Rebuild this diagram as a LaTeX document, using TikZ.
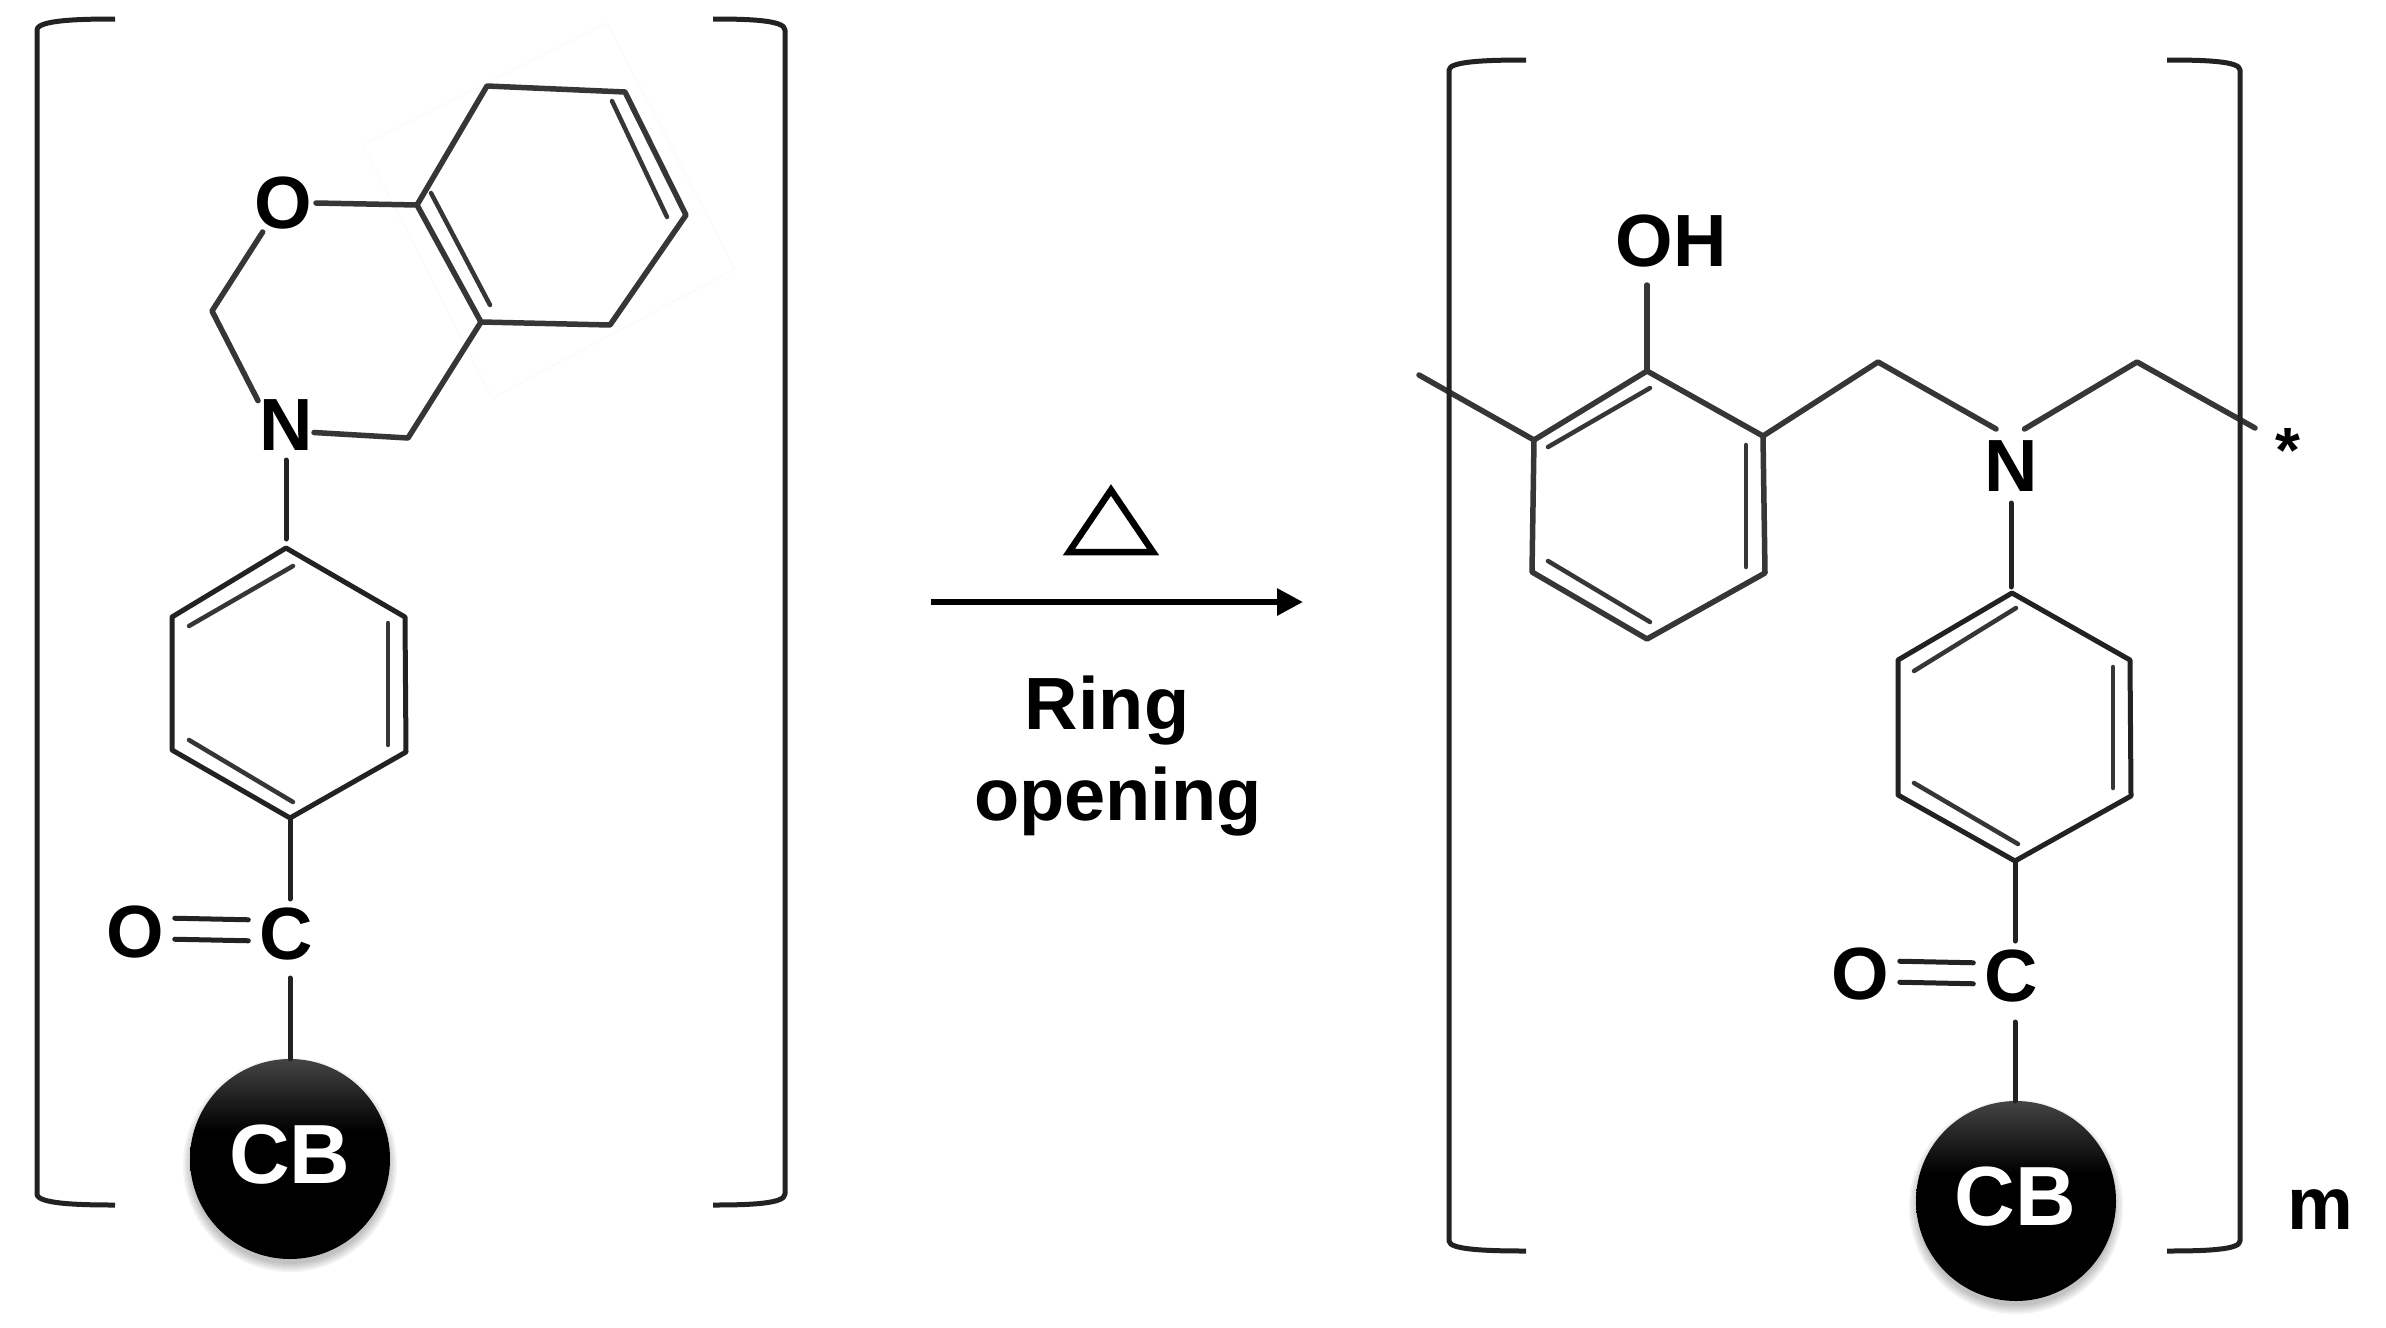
\documentclass[tikz,border=0pt]{standalone}
\usepackage{fontspec}
\setmainfont{Liberation Sans}
\usetikzlibrary{arrows.meta}
\definecolor{ballgray}{HTML}{444444}
\definecolor{ink}{HTML}{222222}
\definecolor{softink}{HTML}{363636}
\pgfdeclareverticalshading{cbball}{100bp}{color(0bp)=(black); color(57bp)=(black); color(75bp)=(ballgray); color(100bp)=(ballgray)}
\tikzset{
  bond/.style={draw=ink,line width=5pt,line cap=round,line join=round},
  softbond/.style={draw=softink,line width=5.5pt,line cap=round,line join=round},
  inner/.style={draw=softink,line width=4.5pt,line cap=round},
  brk/.style={draw=ink,line width=5pt,line cap=butt,line join=round},
  atom/.style={inner sep=0pt,outer sep=0pt,font=\fontsize{74}{80}\selectfont\bfseries,text=black,minimum width=44pt,minimum height=54pt},
  oxy/.style={atom,minimum width=52pt},
  label/.style={inner sep=0pt,outer sep=0pt,anchor=base,font=\fontsize{74}{80}\selectfont\bfseries,text=black},
  ball/.style={circle,inner sep=0pt,outer sep=0pt,minimum size=200pt,shading=cbball,text=white,font=\fontsize{86}{90}\selectfont\bfseries},
}
\newcommand{\ballshadow}[2]{\foreach \r in {99,101,103,105,107}{\fill[black,opacity=0.05] (#1,#2) circle[radius=\r pt];}}
\begin{document}
\begin{tikzpicture}[x=1pt,y=-1pt]
\useasboundingbox[fill=white] (0,0) rectangle (2386,1328);

%% ---------- left monomer ----------
% faint frame around the fused ring
\draw[draw=black!2,line width=1pt] (607,23) -- (735,269) -- (492,398) -- (363,145) -- cycle;

\coordinate (c8a) at (417,205);
\coordinate (c8) at (487,86);
\coordinate (c7) at (625,92);
\coordinate (c6) at (686,215);
\coordinate (c5) at (610,325);
\coordinate (c4a) at (481,322);
\coordinate (c4) at (408,438);
\coordinate (c2) at (212,311);
\node[oxy,minimum width=66pt,minimum height=58pt] (O1) at (283,203) {O};
\node[atom,minimum width=56pt,minimum height=70pt] (N1) at (286,425) {N};
\draw[softbond] (O1.east) -- (c8a) -- (c8) -- (c7) -- (c6) -- (c5) -- (c4a) -- (c8a);
\draw[softbond] (c4a) -- (c4) -- (N1.-15);
\draw[softbond] (O1.-125) -- (c2) -- (N1.139);
\coordinate (i1a) at (431,193); \coordinate (i1b) at (490,305);
\coordinate (i2a) at (612,101); \coordinate (i2b) at (667,217);
\draw[inner] (i1a) -- (i1b);
\draw[inner] (i2a) -- (i2b);

\coordinate (ph1) at (286,548);
\coordinate (ph2) at (405,617);
\coordinate (ph3) at (406,752);
\coordinate (ph4) at (290,818);
\coordinate (ph5) at (172,750);
\coordinate (ph6) at (172,617);
\draw[bond] (ph1) -- (ph2) -- (ph3) -- (ph4) -- (ph5) -- (ph6) -- cycle;
\coordinate (j1a) at (189,626); \coordinate (j1b) at (293,566);
\coordinate (j2a) at (388,623); \coordinate (j2b) at (388,745);
\coordinate (j3a) at (189,740); \coordinate (j3b) at (293,802);
\draw[inner] (j1a) -- (j1b);
\draw[inner] (j2a) -- (j2b);
\draw[inner] (j3a) -- (j3b);
\draw[bond,shorten >=9pt] (N1.south) -- (N1.south |- ph1);

\node[atom,minimum height=70pt] (C1) at (286,934) {C};
\node[oxy] (O2) at (135,932) {O};
\ballshadow{290}{1165}
\node[ball] (CB1) at (290,1159) {};
\node[inner sep=0pt,text=white,font=\fontsize{84}{90}\selectfont\bfseries] (CBt1) at (290,1155) {CB};
\draw[bond] (ph4) -- (ph4 |- C1.north);
\draw[bond,shorten <=9pt] (ph4 |- C1.south) -- (ph4 |- CB1.north);
\draw[bond,shorten <=11pt,shorten >=11pt] ([yshift=14pt]O2.east) -- ([yshift=14pt]C1.west);
\draw[bond,shorten <=11pt,shorten >=11pt] ([yshift=-7pt]O2.east) -- ([yshift=-7pt]C1.west);

% brackets
\coordinate (la) at (115,19); \coordinate (lb) at (37,30); \coordinate (lc) at (37,1194); \coordinate (ld) at (115,1205);
\draw[brk] (la) .. controls (80,19) and (37,20) .. (lb) -- (lc) .. controls (37,1204) and (80,1205) .. (ld);
\coordinate (ra) at (713,19); \coordinate (rb) at (785,30); \coordinate (rc) at (785,1194); \coordinate (rd) at (713,1205);
\draw[brk] (ra) .. controls (748,19) and (785,20) .. (rb) -- (rc) .. controls (785,1204) and (748,1205) .. (rd);

%% ---------- reaction arrow ----------
\coordinate (tA) at (1111,490); \coordinate (tB) at (1153,552); \coordinate (tC) at (1069,552);
\draw[draw=black,line width=6.5pt,line join=miter] (tA) -- (tB) -- (tC) -- cycle;
\coordinate (a1) at (931,602); \coordinate (a2) at (1303,602);
\draw[draw=black,line width=6pt,-{Triangle[length=26pt,width=26pt]}] (a1) -- (a2);
\node[label] (ring) at (1107,729) {Ring};
\node[label] (opening) at (1118,820) {opening};

%% ---------- right polymer ----------
\coordinate (q1) at (1647,371);
\coordinate (q2) at (1763,436);
\coordinate (q3) at (1765,573);
\coordinate (q4) at (1647,639);
\coordinate (q5) at (1532,572);
\coordinate (q6) at (1534,440);
\draw[softbond] (q1) -- (q2) -- (q3) -- (q4) -- (q5) -- (q6) -- cycle;
\coordinate (k1a) at (1548,447); \coordinate (k1b) at (1650,388);
\coordinate (k2a) at (1746,445); \coordinate (k2b) at (1746,567);
\coordinate (k3a) at (1548,561); \coordinate (k3b) at (1650,622);
\draw[inner] (k1a) -- (k1b);
\draw[inner] (k2a) -- (k2b);
\draw[inner] (k3a) -- (k3b);
\coordinate (stub) at (1419,375);
\draw[softbond] (stub) -- (q6);
\node[atom,minimum width=102pt,minimum height=88pt] (OH) at (1671,241) {OH};
\draw[softbond] (q1 |- OH.south) -- (q1);
\coordinate (m1) at (1878,362);
\coordinate (m2) at (2137,362);
\coordinate (endb) at (2255,428);
\node[atom,minimum height=74pt] (N2) at (2011,466) {N};
\draw[softbond] (q2) -- (m1) -- (N2.112);
\draw[softbond] (N2.70) -- (m2) -- (endb);
\node[inner sep=0pt,outer sep=0pt,anchor=base,font=\fontsize{64}{70}\selectfont\bfseries] (star) at (2288,472) {*};

\coordinate (p1) at (2012,593);
\coordinate (p2) at (2130,660);
\coordinate (p3) at (2131,796);
\coordinate (p4) at (2015,861);
\coordinate (p5) at (1898,795);
\coordinate (p6) at (1898,660);
\draw[bond] (p1) -- (p2) -- (p3) -- (p4) -- (p5) -- (p6) -- cycle;
\coordinate (n1a) at (1914,671); \coordinate (n1b) at (2016,608);
\coordinate (n2a) at (2113,667); \coordinate (n2b) at (2113,788);
\coordinate (n3a) at (1914,783); \coordinate (n3b) at (2018,844);
\draw[inner] (n1a) -- (n1b);
\draw[inner] (n2a) -- (n2b);
\draw[inner] (n3a) -- (n3b);
\draw[bond,shorten >=6pt] (N2.south) -- (N2.south |- p1);
\node[atom,minimum height=70pt] (C2) at (2011,976) {C};
\node[oxy] (O3) at (1860,974) {O};
\ballshadow{2016}{1207}
\node[ball] (CB2) at (2016,1201) {};
\node[inner sep=0pt,text=white,font=\fontsize{84}{90}\selectfont\bfseries] (CBt2) at (2015,1197) {CB};
\draw[bond] (p4) -- (p4 |- C2.north);
\draw[bond,shorten <=11pt] (p4 |- C2.south) -- (p4 |- CB2.north);
\draw[bond,shorten <=11pt,shorten >=11pt] ([yshift=13pt]O3.east) -- ([yshift=13pt]C2.west);
\draw[bond,shorten <=11pt,shorten >=11pt] ([yshift=-8pt]O3.east) -- ([yshift=-8pt]C2.west);
\node[label] (m) at (2320,1229) {m};

% brackets
\coordinate (sa) at (1526,60); \coordinate (sb) at (1449,70); \coordinate (sc) at (1449,1241); \coordinate (sd) at (1526,1251);
\draw[brk] (sa) .. controls (1490,60) and (1449,61) .. (sb) -- (sc) .. controls (1449,1250) and (1490,1251) .. (sd);
\coordinate (ta) at (2167,60); \coordinate (tb) at (2240,70); \coordinate (tc) at (2240,1241); \coordinate (td) at (2167,1251);
\draw[brk] (ta) .. controls (2204,60) and (2240,61) .. (tb) -- (tc) .. controls (2240,1250) and (2204,1251) .. (td);
\end{tikzpicture}
\end{document}
